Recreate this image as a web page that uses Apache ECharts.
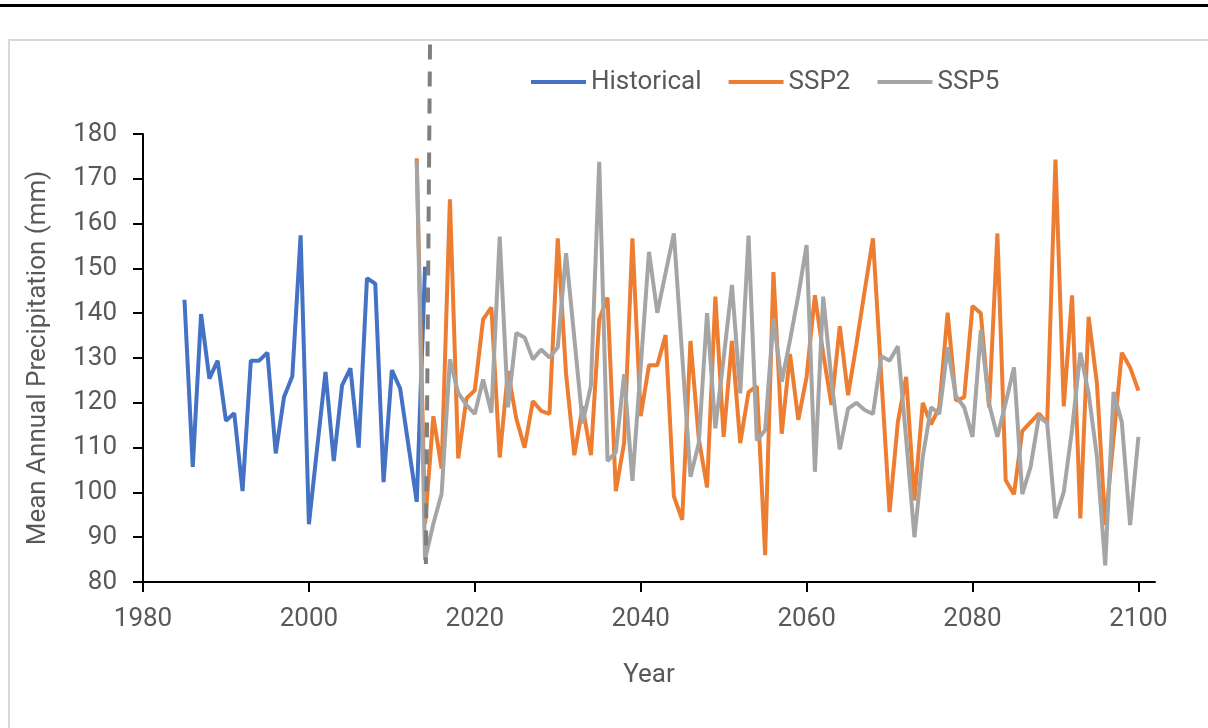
<!DOCTYPE html>
<html>
<head>
<meta charset="utf-8">
<script src="https://cdn.jsdelivr.net/npm/echarts@6/dist/echarts.min.js"></script>
<style>
  html, body { margin: 0; padding: 0; background: #fff; }
  #graph { width: 1208px; height: 728px; }
</style>
</head>
<body>
<div id="graph"></div>
<script>
"use strict"

// years on the x axis
const histYears = [1985, 1986, 1987, 1988, 1989, 1990, 1991, 1992, 1993, 1994,
    1995, 1996, 1997, 1998, 1999, 2000, 2001, 2002, 2003, 2004,
    2005, 2006, 2007, 2008, 2009, 2010, 2011, 2012, 2013, 2014];
const histValues = [143, 105.7, 139.8, 125.4, 129.4, 116, 117.7, 100.3, 129.4, 129.4,
    131.2, 108.7, 121.3, 125.9, 157.4, 92.9, 110, 126.9, 107, 123.9,
    127.7, 110, 147.8, 146.6, 102.3, 127.3, 123.2, 110.5, 97.9, 150.4];

const futureYears = [];
for (let y = 2013; y <= 2100; y++) futureYears.push(y);

const ssp2Values = [174.6, 93, 117, 105.3, 165.4, 107.6, 121, 122.8, 138.6, 141.3,
    107.8, 127.1, 116.5, 110, 120.4, 118.2, 117.5, 156.7, 126.5, 108.3,
    119.2, 108.3, 138.6, 143.5, 100.3, 111, 156.7, 117, 128.4, 128.4,
    135.1, 99.1, 93.9, 133.8, 112, 101.1, 143.7, 112.4, 133.8, 111,
    122.4, 123.7, 86, 149.2, 113.1, 130.9, 116.2, 125.8, 144, 131,
    119.5, 137.1, 121.7, 133, 145, 156.7, 126, 95.6, 115.7, 125.8,
    98.2, 120, 115.2, 119, 140.1, 120.5, 121.2, 141.6, 140, 119,
    157.8, 102.7, 99.6, 113.7, 115.7, 117.6, 115.5, 174.3, 119.2, 144,
    94.2, 139.2, 124.3, 92.7, 112, 131.2, 127.9, 122.7];

const ssp5Values = [174, 85, 93, 99.7, 129.7, 122.2, 119.5, 117.5, 125.2, 117.8,
    157.1, 119, 135.6, 134.6, 129.7, 131.9, 130.1, 132.4, 153.4, 134.4,
    115.4, 123.9, 173.8, 107, 109, 126.4, 102.6, 128, 153.7, 140.1,
    149, 157.8, 130.6, 103.5, 111, 140, 114.3, 130, 146.3, 122.1,
    157.3, 111.6, 113.9, 138.8, 124.7, 134, 144, 155.2, 104.6, 143.7,
    125, 109.6, 118.7, 120, 118.4, 117.5, 130.4, 129.4, 132.6, 112,
    90, 107.9, 119, 117.5, 132.4, 121.5, 119, 112.4, 136.2, 119.8,
    112.4, 120, 127.9, 99.6, 105.7, 116.9, 115.5, 94.2, 100.1, 114,
    131.2, 122.1, 108, 83.7, 122.4, 115.7, 92.7, 112.4];

// dashed divider between historical and projected periods
const dividerYears = [2014.6, 2014.1];
const dividerValues = [200, 84];

const xTickYears = [1980, 2000, 2020, 2040, 2060, 2080, 2100];

const font = "Roboto";
const textGrey = "#595959";

const pair = (xs, ys) => xs.map((x, i) => [x, ys[i]]);

const myChart = echarts.init(document.getElementById("graph"), null, { renderer: "canvas" });

const option = {
    animation: false,
    backgroundColor: "#fff",
    textStyle: { fontFamily: font },
    graphic: [
        { type: "rect", shape: { x: 0, y: 4, width: 1208, height: 3 }, style: { fill: "#000" }, silent: true },
        { type: "rect", shape: { x: 9, y: 40, width: 1260, height: 760 }, style: { fill: null, stroke: "#D9D9D9", lineWidth: 2 }, silent: true }
    ],
    legend: {
        data: ["Historical", "SSP2", "SSP5"],
        left: 526,
        top: 64,
        icon: "rect",
        itemWidth: 55,
        itemHeight: 4,
        itemGap: 27,
        textStyle: { fontFamily: font, fontSize: 26, color: textGrey }
    },
    grid: { left: 143, right: 53, top: 134, bottom: 146, containLabel: false },
    xAxis: {
        type: "value",
        min: 1980,
        max: 2102,
        name: "Year",
        nameLocation: "middle",
        nameGap: 80,
        nameTextStyle: { fontFamily: font, fontSize: 26, color: textGrey },
        axisLine: { lineStyle: { color: "#000", width: 2 } },
        axisTick: { show: true, length: 10, lineStyle: { color: "#000", width: 2 }, customValues: xTickYears },
        axisLabel: { fontFamily: font, fontSize: 26, color: textGrey, margin: 24, customValues: xTickYears, formatter: v => String(v) },
        splitLine: { show: false }
    },
    yAxis: {
        type: "value",
        min: 80,
        max: 180,
        interval: 10,
        name: "Mean Annual Precipitation (mm)",
        nameLocation: "middle",
        nameGap: 92,
        nameTextStyle: { fontFamily: font, fontSize: 26, color: textGrey },
        axisLine: { show: true, lineStyle: { color: "#000", width: 2 } },
        axisTick: { show: true, length: 10, lineStyle: { color: "#000", width: 2 } },
        axisLabel: { fontFamily: font, fontSize: 26, color: textGrey, margin: 26 },
        splitLine: { show: false }
    },
    series: [
        {
            name: "Historical",
            type: "line",
            data: pair(histYears, histValues),
            showSymbol: false,
            lineStyle: { color: "#4472C4", width: 4 },
            itemStyle: { color: "#4472C4" }
        },
        {
            name: "SSP2",
            type: "line",
            data: pair(futureYears, ssp2Values),
            showSymbol: false,
            lineStyle: { color: "#ED7D31", width: 4 },
            itemStyle: { color: "#ED7D31" }
        },
        {
            name: "SSP5",
            type: "line",
            data: pair(futureYears, ssp5Values),
            showSymbol: false,
            lineStyle: { color: "#A5A5A5", width: 4 },
            itemStyle: { color: "#A5A5A5" }
        },
        {
            name: "divider",
            type: "line",
            data: pair(dividerYears, dividerValues),
            showSymbol: false,
            clip: false,
            z: 5,
            silent: true,
            lineStyle: { color: "#7F7F7F", width: 4, type: [15, 12] }
        }
    ]
};
myChart.setOption(option);
</script>
</body>
</html>
